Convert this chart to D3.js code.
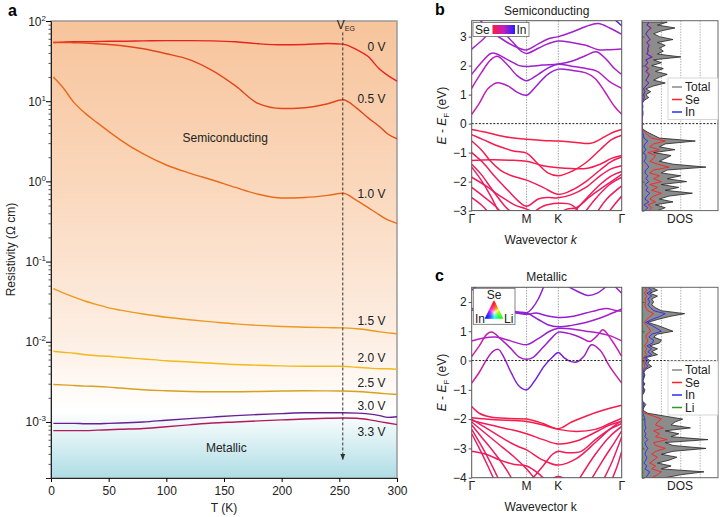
<!DOCTYPE html>
<html>
<head>
<meta charset="utf-8">
<script src="https://cdn.jsdelivr.net/npm/d3@7"></script>
<style>
  body { margin: 0; background: #fff; }
  svg { font-family: Arial, "Liberation Sans", Helvetica, sans-serif; }
</style>
</head>
<body>
<svg id="chart" width="720" height="517"></svg>
<script>
// ---------- panel a : resistivity vs temperature ----------
const temps = [2, 10, 20, 30, 40, 50, 60, 80, 100, 120, 140, 160, 180, 200, 220, 240, 253, 265, 275, 285, 292, 300];
const gateLabels = ["0 V", "0.5 V", "1.0 V", "1.5 V", "2.0 V", "2.5 V", "3.0 V", "3.3 V"];
const rho0V = [54, 54.5, 55, 55, 55.5, 56, 56, 56.5, 57, 57, 56.5, 55, 52, 50.5, 51, 52.5, 51.5, 44, 36, 25, 21, 17.8];
const rho05V = [54, 54, 53.5, 53, 52, 51, 49.5, 45, 39, 33, 24, 15.5, 9.3, 8.1, 8.3, 9.3, 10.4, 8.2, 6.2, 4.8, 3.9, 3.4];
const rho10V = [20, 15, 9.6, 7.0, 5.4, 4.2, 3.3, 2.2, 1.6, 1.27, 1.04, 0.84, 0.69, 0.62, 0.63, 0.67, 0.71, 0.58, 0.47, 0.38, 0.33, 0.30];
const rho15V = [0.046, 0.041, 0.036, 0.032, 0.029, 0.0265, 0.0248, 0.0222, 0.0202, 0.0188, 0.0177, 0.0167, 0.016, 0.0155, 0.0152, 0.015, 0.0149, 0.0145, 0.014, 0.0133, 0.0129, 0.0126];
const rho20V = [0.0076, 0.0074, 0.0072, 0.0069, 0.0067, 0.0066, 0.0064, 0.0061, 0.0058, 0.0056, 0.0054, 0.0052, 0.0051, 0.005, 0.00495, 0.00495, 0.00495, 0.0048, 0.0047, 0.0046, 0.0046, 0.00455];
const rho25V = [0.00293, 0.0029, 0.00285, 0.0028, 0.00277, 0.00272, 0.00265, 0.00252, 0.00245, 0.0024, 0.00238, 0.00238, 0.0024, 0.00243, 0.00245, 0.00244, 0.00243, 0.0024, 0.00235, 0.00228, 0.00224, 0.0022];
const rho30V = [0.00096, 0.00096, 0.00096, 0.00095, 0.00095, 0.00096, 0.00097, 0.001, 0.00105, 0.0011, 0.00115, 0.0012, 0.00124, 0.00127, 0.0013, 0.0013, 0.0013, 0.00129, 0.00126, 0.0012, 0.00114, 0.00116];
const rho33V = [0.00078, 0.00078, 0.00078, 0.00078, 0.00079, 0.0008, 0.00081, 0.00083, 0.00087, 0.00092, 0.00097, 0.001, 0.00103, 0.00106, 0.00109, 0.00111, 0.00112, 0.00111, 0.00107, 0.00101, 0.00097, 0.00093];
const rhoSeries = [rho0V, rho05V, rho10V, rho15V, rho20V, rho25V, rho30V, rho33V];
const gateColors = ["#e8231f", "#e2461c", "#e86a1c", "#ec991e", "#f2b91a", "#d8a020", "#6a1e92", "#b31a5c"];
const labelRho = [47, 10.6, 0.70, 0.0179, 0.0062, 0.0031, 0.00156, 0.00074];
const tTicks = [0, 50, 100, 150, 200, 250, 300];
const rhoDecades = [-3, -2, -1, 0, 1, 2];
const gateTemp = 253;

// ---------- panels b, c : band structures ----------
const kM = 0.577, kK = 0.911, kEnd = 1.577;
const kTicks = [0, kM, kK, kEnd];
const kLabels = ["Γ", "M", "K", "Γ"];

// w = [Se->In weight at Γ, weight inside the zone]
const bandsSemi = [
  { w: [0.4, 0.62], pts: [[0, 0.32], [0.08, 0.7], [0.17, 1.2], [0.27, 1.41], [0.38, 1.3], [0.48, 1.08], [0.577, 0.98], [0.68, 1.3], [0.8, 1.7], [0.911, 1.88], [1.05, 1.84], [1.2, 1.75], [1.3, 1.55], [1.4, 1.1], [1.5, 0.6], [1.577, 0.32]] },
  { w: [0.5, 0.62], pts: [[0, 1.22], [0.1, 1.75], [0.2, 2.2], [0.27, 2.32], [0.37, 2.05], [0.48, 1.65], [0.577, 1.48], [0.7, 1.7], [0.82, 1.95], [0.911, 2.05], [1.05, 1.98], [1.2, 1.9], [1.32, 1.8], [1.45, 1.45], [1.577, 1.22]] },
  { w: [0.55, 0.62], pts: [[0, 1.7], [0.1, 2.1], [0.2, 2.42], [0.25, 2.42], [0.38, 2.2], [0.5, 2.0], [0.577, 1.97], [0.75, 2.02], [0.911, 2.06], [1.05, 2.15], [1.2, 2.35], [1.31, 2.48], [1.42, 2.2], [1.5, 1.9], [1.577, 1.7]] },
  { w: [0.55, 0.6], pts: [[0, 2.57], [0.1, 2.85], [0.2, 3.15], [0.3, 3.2], [0.42, 2.85], [0.52, 2.5], [0.577, 2.42], [0.7, 2.6], [0.8, 2.75], [0.911, 2.85], [1.05, 2.8], [1.2, 2.7], [1.33, 2.55], [1.45, 2.55], [1.577, 2.57]] },
  { w: [0.6, 0.6], pts: [[0.08, 3.6], [0.2, 3.2], [0.35, 2.85], [0.5, 2.6], [0.577, 2.54], [0.7, 2.75], [0.8, 2.92], [0.911, 3.0], [1.05, 3.15], [1.2, 3.35], [1.33, 3.45], [1.45, 3.3], [1.577, 3.08]] },
  { w: [0.85, 0.85], pts: [[1.5, 3.6], [1.577, 3.38]] },
  { w: [0.05, 0.03], pts: [[0, -0.2], [0.15, -0.3], [0.35, -0.45], [0.577, -0.54], [0.75, -0.58], [0.911, -0.6], [1.1, -0.65], [1.25, -0.68], [1.4, -0.45], [1.5, -0.28], [1.577, -0.2]] },
  { w: [0.08, 0.05], pts: [[0, -0.38], [0.12, -0.55], [0.3, -0.8], [0.45, -0.95], [0.577, -1.02], [0.7, -1.4], [0.8, -1.7], [0.911, -1.8], [1.05, -1.65], [1.2, -1.35], [1.35, -0.9], [1.47, -0.55], [1.577, -0.4]] },
  { w: [0.08, 0.06], pts: [[0, -1.27], [0.2, -1.25], [0.4, -1.26], [0.577, -1.3], [0.75, -1.45], [0.911, -1.52], [1.05, -1.55], [1.2, -1.55], [1.35, -1.4], [1.47, -1.2], [1.577, -1.1]] },
  { w: [0.1, 0.08], pts: [[0, -0.6], [0.1, -0.9], [0.2, -1.3], [0.3, -1.6], [0.42, -1.8], [0.577, -1.95], [0.75, -2.2], [0.911, -2.44], [1.05, -2.3], [1.2, -2.0], [1.35, -1.6], [1.47, -1.3], [1.577, -1.15]] },
  { w: [0.12, 0.1], pts: [[0, -1.0], [0.12, -1.35], [0.25, -1.85], [0.38, -2.3], [0.5, -2.7], [0.577, -2.85], [0.7, -2.6], [0.8, -2.55], [0.911, -2.56], [1.05, -2.45], [1.2, -2.2], [1.35, -1.8], [1.47, -1.55], [1.577, -1.45]] },
  { w: [0.14, 0.1], pts: [[0, -1.4], [0.1, -1.75], [0.22, -2.3], [0.35, -2.85], [0.45, -3.15]] },
  { w: [0.14, 0.1], pts: [[0, -1.5], [0.1, -1.95], [0.2, -2.5], [0.3, -3.15]] },
  { w: [0.14, 0.1], pts: [[0, -1.85], [0.15, -2.15], [0.3, -2.5], [0.45, -2.8], [0.577, -2.95], [0.7, -3.15]] },
  { w: [0.14, 0.1], pts: [[0, -2.2], [0.12, -2.5], [0.25, -2.85], [0.33, -3.15]] },
  { w: [0.14, 0.1], pts: [[0, -2.55], [0.1, -2.8], [0.2, -3.15]] },
  { w: [0.1, 0.1], pts: [[0.62, -3.15], [0.75, -2.85], [0.911, -2.75], [1.05, -2.8], [1.15, -3.15]] },
  { w: [0.14, 0.1], pts: [[0.9, -3.15], [1.0, -2.95], [1.1, -2.9], [1.25, -2.5], [1.4, -2.15], [1.577, -1.75]] },
  { w: [0.14, 0.1], pts: [[1.05, -3.15], [1.2, -2.6], [1.35, -2.1], [1.47, -1.8], [1.577, -1.65]] },
  { w: [0.14, 0.1], pts: [[1.17, -3.15], [1.3, -2.6], [1.45, -2.1], [1.577, -1.85]] },
  { w: [0.14, 0.1], pts: [[1.3, -3.15], [1.42, -2.6], [1.577, -2.15]] },
  { w: [0.14, 0.1], pts: [[1.42, -3.15], [1.5, -2.8], [1.577, -2.5]] }
];

const bandsMetal = [
  { w: [0.35, 0.75], pts: [[0, -0.77], [0.08, -0.4], [0.16, 0.05], [0.23, 0.33], [0.28, 0.38], [0.34, 0.1], [0.42, -0.45], [0.5, -0.88], [0.577, -1.0], [0.66, -0.7], [0.76, -0.2], [0.85, 0.12], [0.911, 0.27], [0.97, 0.1], [1.03, -0.02], [1.1, -0.05], [1.18, 0.15], [1.26, 0.54], [1.35, 0.35], [1.45, -0.2], [1.577, -0.77]] },
  { w: [0.4, 0.62], pts: [[0, 0.14], [0.08, 0.5], [0.16, 0.9], [0.21, 0.97], [0.3, 0.75], [0.4, 0.45], [0.5, 0.12], [0.577, 0.04], [0.65, 0.12], [0.75, 0.45], [0.85, 0.8], [0.911, 0.97], [1.05, 0.9], [1.15, 0.78], [1.24, 0.65], [1.32, 0.85], [1.38, 1.05], [1.47, 0.7], [1.577, 0.14]] },
  { w: [0.5, 0.62], pts: [[0, 0.67], [0.1, 0.75], [0.25, 0.8], [0.4, 0.68], [0.577, 0.54], [0.7, 0.75], [0.82, 1.0], [0.911, 1.1], [1.05, 1.08], [1.2, 1.0], [1.32, 0.95], [1.45, 0.85], [1.577, 0.67]] },
  { w: [0.55, 0.65], pts: [[0, 1.72], [0.2, 1.74], [0.4, 1.66], [0.577, 1.58], [0.68, 1.62], [0.8, 1.52], [0.911, 1.47], [1.05, 1.5], [1.2, 1.62], [1.32, 1.72], [1.42, 1.78], [1.5, 1.72], [1.577, 1.68]] },
  { w: [0.55, 0.65], pts: [[0, 1.78], [0.15, 1.72], [0.35, 1.66], [0.577, 1.62], [0.7, 1.4], [0.8, 1.22], [0.911, 1.15], [1.05, 1.2], [1.2, 1.3], [1.35, 1.45], [1.45, 1.58], [1.577, 1.76]] },
  { w: [0.6, 0.65], pts: [[0.02, 2.55], [0.12, 2.2], [0.3, 1.85], [0.45, 1.68], [0.577, 1.62], [0.64, 1.8], [0.7, 2.1], [0.76, 2.55]] },
  { w: [0.65, 0.65], pts: [[1.0, 2.55], [1.12, 2.35], [1.22, 2.22], [1.32, 2.3], [1.42, 2.55]] },
  { w: [0.65, 0.65], pts: [[1.5, 2.55], [1.577, 2.3]] },
  { w: [0.65, 0.65], pts: [[0, 2.4], [0.05, 2.55]] },
  { w: [0.1, 0.03], pts: [[0, -1.57], [0.08, -1.8], [0.2, -1.93], [0.4, -1.98], [0.577, -2.0], [0.75, -2.15], [0.911, -2.33], [1.05, -2.1], [1.2, -1.9], [1.38, -1.7], [1.577, -1.53]] },
  { w: [0.1, 0.05], pts: [[0, -1.95], [0.25, -2.02], [0.45, -2.05], [0.577, -2.08], [0.75, -2.2], [0.911, -2.35], [1.1, -2.42], [1.3, -2.35], [1.45, -2.15], [1.577, -1.97]] },
  { w: [0.12, 0.06], pts: [[0, -2.05], [0.2, -2.2], [0.4, -2.35], [0.577, -2.5], [0.75, -2.7], [0.911, -2.85], [1.1, -2.75], [1.3, -2.45], [1.45, -2.2], [1.577, -2.08]] },
  { w: [0.14, 0.08], pts: [[0, -2.0], [0.15, -2.3], [0.35, -2.7], [0.5, -2.95], [0.577, -3.05], [0.75, -3.4], [0.911, -3.57], [1.1, -3.35], [1.3, -2.8], [1.45, -2.35], [1.577, -2.05]] },
  { w: [0.14, 0.1], pts: [[0, -2.1], [0.15, -2.5], [0.3, -2.9], [0.45, -3.3], [0.577, -3.7], [0.68, -4.1]] },
  { w: [0.14, 0.1], pts: [[0, -2.2], [0.1, -2.6], [0.25, -3.2], [0.38, -3.8], [0.43, -4.1]] },
  { w: [0.14, 0.1], pts: [[0, -2.35], [0.1, -2.9], [0.2, -3.5], [0.29, -4.1]] },
  { w: [0.14, 0.1], pts: [[0, -2.5], [0.08, -3.0], [0.17, -3.6], [0.24, -4.1]] },
  { w: [0.14, 0.1], pts: [[0, -3.1], [0.15, -3.2], [0.3, -3.4], [0.45, -3.55], [0.577, -3.6], [0.7, -3.85], [0.78, -4.1]] },
  { w: [0.14, 0.1], pts: [[0.62, -4.1], [0.75, -3.6], [0.85, -3.2], [0.911, -3.1], [1.0, -3.15], [1.15, -3.1], [1.3, -2.7], [1.45, -2.35], [1.577, -2.15]] },
  { w: [0.14, 0.1], pts: [[1.12, -4.1], [1.3, -3.2], [1.45, -2.6], [1.577, -2.25]] },
  { w: [0.14, 0.1], pts: [[1.25, -4.1], [1.38, -3.4], [1.5, -2.8], [1.577, -2.4]] },
  { w: [0.14, 0.1], pts: [[1.38, -4.1], [1.47, -3.5], [1.577, -2.6]] },
  { w: [0.14, 0.1], pts: [[1.47, -4.1], [1.53, -3.6], [1.577, -3.1]] },
  { w: [0.14, 0.1], pts: [[0.82, -4.1], [0.911, -3.95], [1.0, -4.1]] }
];

// ---------- DOS (0.1 eV grid) ----------
const dosSemiStart = -3.0;
const dosTotalSemi = [0.8, 1.2, 0.7, 1.6, 0.9, 1.4, 2.6, 1.2, 1.9, 1.0,
  2.3, 1.3, 2.0, 1.0, 1.3, 3.3, 1.6, 0.9, 1.2, 1.5,
  0.6, 1.7, 0.9, 1.2, 2.75, 0.9, 0.6, 0.3, 0.05, 0,
  0, 0, 0, 0.05, 0.05, 0.03, 0.05, 0.02, 0.1, 0.35,
  0.2, 0.45, 0.2, 0.6, 1.2, 0.6, 0.9, 1.3, 0.7, 1.1,
  0.5, 1.0, 0.6, 2.0, 0.8, 1.1, 0.9, 1.2, 0.8, 1.6,
  0.9, 0.6, 1.0, 1.7, 0.8, 1.3];
const dosSeSemi = [0.4, 0.5, 0.3, 0.7, 0.4, 0.6, 1.0, 0.5, 0.8, 0.4,
  1.0, 0.6, 0.9, 0.4, 0.6, 1.4, 0.8, 0.4, 0.6, 0.7,
  0.3, 0.9, 0.4, 0.6, 1.2, 0.5, 0.3, 0.15, 0.03, 0,
  0, 0, 0, 0.02, 0.02, 0.01, 0.02, 0.01, 0.04, 0.12,
  0.08, 0.15, 0.08, 0.2, 0.35, 0.2, 0.3, 0.4, 0.25, 0.35,
  0.2, 0.3, 0.2, 0.55, 0.25, 0.35, 0.3, 0.4, 0.25, 0.45,
  0.3, 0.2, 0.3, 0.5, 0.25, 0.4];
const dosInSemi = [0.15, 0.3, 0.1, 0.35, 0.15, 0.25, 0.4, 0.2, 0.3, 0.15,
  0.35, 0.2, 0.3, 0.15, 0.2, 0.35, 0.25, 0.1, 0.2, 0.2,
  0.08, 0.2, 0.1, 0.15, 0.3, 0.1, 0.08, 0.04, 0.01, 0,
  0, 0, 0, 0.02, 0.02, 0.01, 0.02, 0.01, 0.05, 0.12,
  0.08, 0.15, 0.08, 0.2, 0.35, 0.2, 0.3, 0.35, 0.2, 0.3,
  0.15, 0.3, 0.2, 0.5, 0.25, 0.3, 0.3, 0.35, 0.25, 0.4,
  0.3, 0.2, 0.3, 0.45, 0.25, 0.35];

const dosMetalStart = -4.0;
const dosTotalMetal = [1.2, 2.0, 3.2, 1.0, 1.5, 0.8, 1.4, 1.8, 1.0, 1.6,
  3.3, 1.6, 1.2, 3.4, 1.5, 1.9, 1.2, 2.5, 1.5, 1.7,
  2.1, 1.2, 0.3, 0.05, 0.1, 0.2, 0.05, 0, 0, 0.1,
  0.15, 0.05, 0.15, 0.05, 0.1, 0.15, 0.1, 0.2, 0.5, 0.3,
  0.4, 0.2, 0.8, 0.5, 0.8, 0.4, 0.9, 1.0, 0.6, 0.8,
  1.6, 1.2, 0.8, 0.3, 0.8, 1.4, 2.2, 1.0, 0.7, 0.5,
  0.6, 0.5, 0.8, 0.4, 0.8, 0.5];
const dosSeMetal = [0.5, 0.8, 1.0, 0.5, 0.7, 0.4, 0.6, 0.8, 0.5, 0.7,
  1.2, 0.7, 0.6, 1.3, 0.7, 0.9, 0.6, 1.1, 0.7, 0.8,
  1.0, 0.6, 0.15, 0.02, 0.04, 0.08, 0.02, 0, 0, 0.03,
  0.05, 0.02, 0.05, 0.02, 0.03, 0.05, 0.03, 0.07, 0.15, 0.1,
  0.12, 0.07, 0.25, 0.15, 0.25, 0.12, 0.25, 0.3, 0.2, 0.25,
  0.45, 0.35, 0.25, 0.1, 0.25, 0.4, 0.6, 0.3, 0.2, 0.15,
  0.2, 0.15, 0.25, 0.12, 0.25, 0.15];
const dosInMetal = [0.2, 0.3, 0.4, 0.15, 0.25, 0.1, 0.2, 0.25, 0.15, 0.2,
  0.3, 0.2, 0.15, 0.3, 0.15, 0.2, 0.12, 0.2, 0.15, 0.15,
  0.15, 0.1, 0.05, 0.01, 0.05, 0.1, 0.03, 0, 0, 0.06,
  0.1, 0.03, 0.1, 0.03, 0.06, 0.1, 0.06, 0.12, 0.3, 0.18,
  0.25, 0.12, 0.5, 0.3, 0.5, 0.25, 0.55, 0.6, 0.35, 0.5,
  1.0, 0.75, 0.5, 0.18, 0.5, 0.9, 1.2, 0.6, 0.45, 0.3,
  0.4, 0.3, 0.5, 0.25, 0.5, 0.3];
const dosLiMetal = [0.03, 0.04, 0.05, 0.03, 0.03, 0.02, 0.03, 0.04, 0.02, 0.03,
  0.05, 0.03, 0.02, 0.05, 0.03, 0.03, 0.02, 0.04, 0.03, 0.03,
  0.04, 0.02, 0.01, 0, 0, 0.01, 0, 0, 0, 0,
  0.01, 0, 0.01, 0, 0, 0.01, 0, 0.01, 0.02, 0.01,
  0.02, 0.01, 0.03, 0.02, 0.03, 0.02, 0.03, 0.03, 0.02, 0.03,
  0.04, 0.03, 0.02, 0.01, 0.02, 0.03, 0.04, 0.02, 0.02, 0.01,
  0.02, 0.01, 0.02, 0.01, 0.02, 0.01];

const svg = d3.select("#chart");
const defs = svg.append("defs");
const bandColor = d3.scaleLinear().domain([0, 0.5, 1]).range(["#ff1a3c", "#c020c0", "#2020ff"]);

// =================== panel a ===================
const ax = { left: 51, top: 21, width: 346, height: 457 };
const xT = d3.scaleLinear().domain([0, 300]).range([ax.left, ax.left + ax.width]);
const yR = d3.scaleLog().domain([2e-4, 100]).range([ax.top + ax.height, ax.top]);

const bg = defs.append("linearGradient").attr("id", "bgA")
  .attr("x1", 0).attr("x2", 0).attr("y1", 0).attr("y2", 1);
[[0, "#f7c49b"], [0.35, "#fad7bb"], [0.7, "#fdefe4"], [0.855, "#ffffff"], [1, "#aedde5"]]
  .forEach(s => bg.append("stop").attr("offset", s[0]).attr("stop-color", s[1]));

svg.append("rect").attr("x", ax.left).attr("y", ax.top).attr("width", ax.width).attr("height", ax.height)
  .attr("fill", "url(#bgA)").attr("stroke", "#9a9a9a").attr("stroke-width", 1.5);

const rhoLine = d3.line().x(d => xT(d[0])).y(d => yR(d[1])).curve(d3.curveMonotoneX);
rhoSeries.forEach((vals, i) => {
  svg.append("path").attr("d", rhoLine(temps.map((t, j) => [t, vals[j]])))
    .attr("fill", "none").attr("stroke", gateColors[i]).attr("stroke-width", 1.4);
  svg.append("text").attr("x", xT(290)).attr("y", yR(labelRho[i]) + 4)
    .attr("text-anchor", "end").attr("font-size", 12).attr("fill", "#222").text(gateLabels[i]);
});

// gating arrow
defs.append("marker").attr("id", "arrowHead").attr("viewBox", "0 0 10 10")
  .attr("refX", 9).attr("refY", 5).attr("markerWidth", 6).attr("markerHeight", 6)
  .attr("orient", "auto-start-reverse")
  .append("path").attr("d", "M0,1L10,5L0,9Z").attr("fill", "#333");
svg.append("line").attr("x1", xT(gateTemp)).attr("x2", xT(gateTemp))
  .attr("y1", yR(72)).attr("y2", yR(3.4e-4))
  .attr("stroke", "#333").attr("stroke-width", 1).attr("stroke-dasharray", "3,2")
  .attr("marker-end", "url(#arrowHead)");
const veg = svg.append("text").attr("x", xT(gateTemp) - 6).attr("y", 29).attr("font-size", 12).attr("fill", "#222");
veg.append("tspan").text("V");
veg.append("tspan").attr("font-size", 7).attr("dy", 2).text("EG");

svg.append("text").attr("x", xT(151)).attr("y", yR(3.5) + 4).attr("text-anchor", "middle")
  .attr("font-size", 12).attr("fill", "#222").text("Semiconducting");
svg.append("text").attr("x", xT(152)).attr("y", yR(4.8e-4) + 4).attr("text-anchor", "middle")
  .attr("font-size", 12).attr("fill", "#222").text("Metallic");

// axes
const xAxisA = svg.append("g").attr("transform", `translate(0,${ax.top + ax.height})`)
  .call(d3.axisBottom(xT).tickValues(tTicks).tickSize(4).tickPadding(4));
xAxisA.selectAll("text").attr("font-size", 12).attr("fill", "#222");
xAxisA.select(".domain").attr("stroke", "#222");

const minorRho = yR.ticks().filter(v => Math.abs(Math.log10(v) - Math.round(Math.log10(v))) > 1e-6);
svg.append("g").attr("transform", `translate(${ax.left},0)`)
  .call(d3.axisLeft(yR).tickValues(minorRho).tickSize(2.5).tickFormat(""))
  .call(g => g.select(".domain").remove())
  .selectAll("line").attr("stroke", "#555");
const yAxisA = svg.append("g").attr("transform", `translate(${ax.left},0)`)
  .call(d3.axisLeft(yR).tickValues(rhoDecades.map(p => Math.pow(10, p))).tickSize(5).tickFormat(""));
yAxisA.select(".domain").attr("stroke", "#222");
rhoDecades.forEach(p => {
  const t = svg.append("text").attr("x", ax.left - 5).attr("y", yR(Math.pow(10, p)) + 4.5)
    .attr("text-anchor", "end").attr("font-size", 12).attr("fill", "#222");
  t.append("tspan").text("10");
  t.append("tspan").attr("font-size", 8).attr("dy", -5).text(p < 0 ? "-" + (-p) : String(p));
});

svg.append("text").attr("x", ax.left + ax.width / 2).attr("y", 512).attr("text-anchor", "middle")
  .attr("font-size", 12).attr("fill", "#222").text("T (K)");
svg.append("text").attr("transform", `translate(15,${ax.top + ax.height / 2}) rotate(-90)`)
  .attr("text-anchor", "middle").attr("font-size", 12).attr("fill", "#222").text("Resistivity (Ω cm)");
svg.append("text").attr("x", 8).attr("y", 16).attr("font-size", 16).attr("font-weight", "bold").text("a");

// =================== panels b, c ===================
const xk = d3.scaleLinear().domain([0, kEnd]).range([471.7, 621.7]);
const xDos = d3.scaleLinear().domain([0, 3.92]).range([642, 718]);

function drawPanel(cfg) {
  const ys = d3.scaleLinear().domain(cfg.eDomain).range(cfg.yRange);
  const top = cfg.yRange[1], bot = cfg.yRange[0];

  // clip paths
  defs.append("clipPath").attr("id", cfg.id + "-clipB").append("rect")
    .attr("x", xk(0)).attr("y", top).attr("width", xk(kEnd) - xk(0)).attr("height", bot - top);
  defs.append("clipPath").attr("id", cfg.id + "-clipD").append("rect")
    .attr("x", xDos(0)).attr("y", top).attr("width", xDos(3.92) - xDos(0)).attr("height", bot - top);

  // band frame background
  svg.append("rect").attr("x", xk(0)).attr("y", top).attr("width", xk(kEnd) - xk(0)).attr("height", bot - top)
    .attr("fill", "#fff");
  [kM, kK].forEach(k => svg.append("line").attr("x1", xk(k)).attr("x2", xk(k)).attr("y1", top).attr("y2", bot)
    .attr("stroke", "#999").attr("stroke-width", 0.9).attr("stroke-dasharray", "1.5,1.2"));

  const gb = svg.append("g").attr("clip-path", `url(#${cfg.id}-clipB)`);
  const line = d3.line().x(d => xk(d[0])).y(d => ys(d[1])).curve(d3.curveCatmullRom.alpha(0.5));
  cfg.bands.forEach((b, i) => {
    const gid = `${cfg.id}-grad${i}`;
    const grad = defs.append("linearGradient").attr("id", gid).attr("gradientUnits", "userSpaceOnUse")
      .attr("x1", xk(0)).attr("x2", xk(kEnd)).attr("y1", 0).attr("y2", 0);
    [[0, b.w[0]], [kM, b.w[1]], [kK, b.w[1]], [kEnd, b.w[0]]].forEach(s =>
      grad.append("stop").attr("offset", s[0] / kEnd).attr("stop-color", bandColor(s[1])));
    gb.append("path").attr("d", line(b.pts)).attr("fill", "none")
      .attr("stroke", `url(#${gid})`).attr("stroke-width", 1.5);
  });

  // Fermi level
  svg.append("line").attr("x1", xk(0)).attr("x2", xk(kEnd)).attr("y1", ys(0)).attr("y2", ys(0))
    .attr("stroke", "#222").attr("stroke-width", 1).attr("stroke-dasharray", "2,1.6");
  svg.append("rect").attr("x", xk(0)).attr("y", top).attr("width", xk(kEnd) - xk(0)).attr("height", bot - top)
    .attr("fill", "none").attr("stroke", "#555").attr("stroke-width", 1);

  // y axis
  const yAx = svg.append("g").attr("transform", `translate(${xk(0)},0)`)
    .call(d3.axisLeft(ys).tickValues(cfg.eTicks).tickSize(3).tickPadding(2)
      .tickFormat(v => v < 0 ? "\u2212" + (-v) : String(v)));
  yAx.select(".domain").remove();
  yAx.selectAll("text").attr("font-size", 12).attr("fill", "#222");
  yAx.selectAll("line").attr("stroke", "#555");

  // k labels
  kTicks.forEach((k, i) => svg.append("text").attr("x", xk(k)).attr("y", bot + 12.5)
    .attr("text-anchor", "middle").attr("font-size", 12).attr("fill", "#222").text(kLabels[i]));
  const wl = svg.append("text").attr("x", (xk(0) + xk(kEnd)) / 2 - 6).attr("y", bot + 33)
    .attr("text-anchor", "middle").attr("font-size", 12).attr("fill", "#222");
  wl.append("tspan").text("Wavevector ");
  wl.append("tspan").attr("font-style", cfg.italicK ? "italic" : "normal").text("k");

  const el = svg.append("text").attr("transform", `translate(${cfg.eLabelX},${(top + bot) / 2}) rotate(-90)`)
    .attr("text-anchor", "middle").attr("font-size", 12).attr("fill", "#222");
  el.append("tspan").attr("font-style", "italic").text("E");
  el.append("tspan").text(" - ");
  el.append("tspan").attr("font-style", "italic").text("E");
  el.append("tspan").attr("font-size", 8).attr("dy", 3).text("F");
  el.append("tspan").attr("dy", -3).text(" (eV)");

  svg.append("text").attr("x", 546.7).attr("y", top - 6).attr("text-anchor", "middle")
    .attr("font-size", 12).attr("fill", "#222").text(cfg.title);
  svg.append("text").attr("x", 435).attr("y", top - 6).attr("font-size", 16)
    .attr("font-weight", "bold").text(cfg.letter);

  // ---- DOS ----
  svg.append("rect").attr("x", xDos(0)).attr("y", top).attr("width", xDos(3.92) - xDos(0)).attr("height", bot - top)
    .attr("fill", "#fff");
  [1, 2, 3].forEach(v => svg.append("line").attr("x1", xDos(v)).attr("x2", xDos(v)).attr("y1", top).attr("y2", bot)
    .attr("stroke", "#aaa").attr("stroke-width", 0.9).attr("stroke-dasharray", "1.5,1.2"));
  const gd = svg.append("g").attr("clip-path", `url(#${cfg.id}-clipD)`);
  const eOf = i => cfg.dosStart + i * 0.1;
  const area = d3.area().y((d, i) => ys(eOf(i))).x0(xDos(0)).x1(d => xDos(d));
  gd.append("path").attr("d", area(cfg.dosTotal)).attr("fill", "#8c8c8c")
    .attr("stroke", "#222").attr("stroke-width", 0.8);
  const dl = d3.line().y((d, i) => ys(eOf(i))).x(d => xDos(d));
  cfg.dosParts.forEach(p => gd.append("path").attr("d", dl(p.vals)).attr("fill", "none")
    .attr("stroke", p.color).attr("stroke-width", 0.9));
  svg.append("line").attr("x1", xDos(0)).attr("x2", xDos(3.92)).attr("y1", ys(0)).attr("y2", ys(0))
    .attr("stroke", "#222").attr("stroke-width", 1).attr("stroke-dasharray", "2,1.6");
  svg.append("rect").attr("x", xDos(0)).attr("y", top).attr("width", xDos(3.92) - xDos(0)).attr("height", bot - top)
    .attr("fill", "none").attr("stroke", "#666").attr("stroke-width", 1);
  svg.append("g").attr("transform", `translate(${xDos(0)},0)`)
    .call(d3.axisRight(ys).tickValues(cfg.eTicks).tickSize(2.5).tickFormat(""))
    .call(g => g.select(".domain").remove())
    .selectAll("line").attr("stroke", "#555");
  svg.append("text").attr("x", (xDos(0) + xDos(3.92)) / 2).attr("y", bot + 12.5)
    .attr("text-anchor", "middle").attr("font-size", 12).attr("fill", "#222").text("DOS");

  // DOS legend
  const items = [{ name: "Total", color: "#888" }].concat(cfg.dosParts);
  const lg = svg.append("g");
  lg.append("rect").attr("x", 668).attr("y", cfg.legendY).attr("width", 50)
    .attr("height", items.length * 12.5 + 4).attr("fill", "#fff").attr("stroke", "#ccc").attr("stroke-width", 0.8);
  items.forEach((it, i) => {
    const yy = cfg.legendY + 9 + i * 12.5;
    lg.append("line").attr("x1", 672).attr("x2", 682).attr("y1", yy).attr("y2", yy)
      .attr("stroke", it.color).attr("stroke-width", 1.5);
    lg.append("text").attr("x", 685).attr("y", yy + 4.2).attr("font-size", 12).attr("fill", "#222").text(it.name);
  });
  return ys;
}

drawPanel({
  id: "semi", letter: "b", title: "Semiconducting", bands: bandsSemi,
  eDomain: [-3, 3.55], yRange: [210.6, 20.7], eTicks: [-3, -2, -1, 0, 1, 2, 3], eLabelX: 446,
  italicK: true, dosStart: dosSemiStart, dosTotal: dosTotalSemi,
  dosParts: [{ name: "Se", color: "#ff2020", vals: dosSeSemi }, { name: "In", color: "#2a2aff", vals: dosInSemi }],
  legendY: 78
});
drawPanel({
  id: "metal", letter: "c", title: "Metallic", bands: bandsMetal,
  eDomain: [-4, 2.5], yRange: [477.7, 287.3], eTicks: [-4, -3, -2, -1, 0, 1, 2], eLabelX: 446,
  italicK: false, dosStart: dosMetalStart, dosTotal: dosTotalMetal,
  dosParts: [{ name: "Se", color: "#ff2020", vals: dosSeMetal }, { name: "In", color: "#2a2aff", vals: dosInMetal },
    { name: "Li", color: "#2e9a2e", vals: dosLiMetal }],
  legendY: 361
});

// ---- band weight legends ----
const lb = svg.append("g");
lb.append("rect").attr("x", 473).attr("y", 22.5).attr("width", 56).attr("height", 14)
  .attr("fill", "#fff").attr("stroke", "#666").attr("stroke-width", 0.8);
const cbar = defs.append("linearGradient").attr("id", "seInBar");
[0, 0.5, 1].forEach(v => cbar.append("stop").attr("offset", v).attr("stop-color", bandColor(v)));
lb.append("rect").attr("x", 492.5).attr("y", 25).attr("width", 22.5).attr("height", 9).attr("fill", "url(#seInBar)");
lb.append("text").attr("x", 475).attr("y", 34).attr("font-size", 12).attr("fill", "#222").text("Se");
lb.append("text").attr("x", 516.5).attr("y", 34).attr("font-size", 12).attr("fill", "#222").text("In");

const lc = svg.append("g");
lc.append("rect").attr("x", 473.3).attr("y", 288.3).attr("width", 41.7).attr("height", 36)
  .attr("fill", "#fff").attr("stroke", "#666").attr("stroke-width", 0.8);
// RGB triangle (Se top = red, In left = blue, Li right = green)
const tri = { top: [494, 300.5], left: [485, 318.5], right: [503, 318.5] };
const nSub = 14;
const pt = (a, b) => {
  const c = nSub - a - b;
  return [(a * tri.top[0] + b * tri.left[0] + c * tri.right[0]) / nSub,
    (a * tri.top[1] + b * tri.left[1] + c * tri.right[1]) / nSub];
};
const triColor = (a, b) => {
  const c = nSub - a - b, m = Math.max(a, b, c);
  return d3.rgb(255 * a / m, 255 * c / m, 255 * b / m).toString();
};
for (let a = 0; a < nSub; a++) {
  for (let b = 0; b < nSub - a; b++) {
    const p1 = pt(a + 1, b), p2 = pt(a, b + 1), p3 = pt(a, b);
    lc.append("path").attr("d", `M${p1}L${p2}L${p3}Z`).attr("fill", triColor(a + 1 / 3, b + 1 / 3))
      .attr("stroke", triColor(a + 1 / 3, b + 1 / 3)).attr("stroke-width", 0.3);
    if (b < nSub - a - 1) {
      const q1 = pt(a + 1, b), q2 = pt(a + 1, b + 1), q3 = pt(a, b + 1);
      lc.append("path").attr("d", `M${q1}L${q2}L${q3}Z`).attr("fill", triColor(a + 2 / 3, b + 2 / 3))
        .attr("stroke", triColor(a + 2 / 3, b + 2 / 3)).attr("stroke-width", 0.3);
    }
  }
}
lc.append("text").attr("x", 494).attr("y", 299).attr("text-anchor", "middle").attr("font-size", 12).attr("fill", "#222").text("Se");
lc.append("text").attr("x", 475).attr("y", 322.5).attr("font-size", 12).attr("fill", "#222").text("In");
lc.append("text").attr("x", 504).attr("y", 322.5).attr("font-size", 12).attr("fill", "#222").text("Li");
</script>
</body>
</html>
